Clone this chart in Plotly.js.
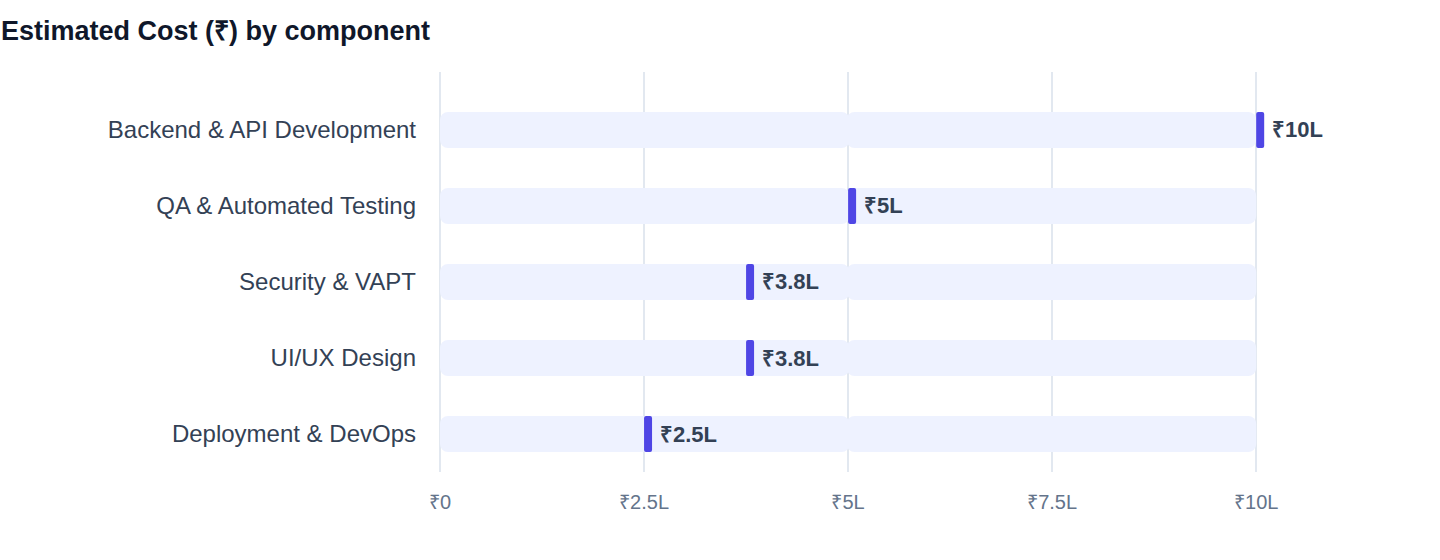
<!DOCTYPE html>
<html>
<head>
<meta charset="utf-8">
<script src="https://cdn.plot.ly/plotly-3.0.1.min.js"></script>
<style>
  html, body { margin: 0; padding: 0; background: #ffffff; }
  #chart { width: 1440px; height: 560px; }
</style>
</head>
<body>
<div id="chart"></div>
<script>
// ---- data ----
const categories = [
  "Backend & API Development",
  "QA & Automated Testing",
  "Security & VAPT",
  "UI/UX Design",
  "Deployment & DevOps"
];
const costLakh = [10, 5, 3.75, 3.75, 2.5];
const valueLabels = ["₹10L", "₹5L", "₹3.8L", "₹3.8L", "₹2.5L"];
const trackMax = 10;
const tickValues = [0, 2.5, 5, 7.5, 10];
const tickLabels = ["₹0", "₹2.5L", "₹5L", "₹7.5L", "₹10L"];

// ---- layout constants ----
const FONT = "'Liberation Sans', Arial, Helvetica, sans-serif";
const plotLeft = 440, xMax = 10.5;
const pxPerUnit = 81.6;
const plotRight = plotLeft + xMax * pxPerUnit;
const markerWidthUnits = 8 / pxPerUnit;
const overlapUnits = 1.5 / pxPerUnit;
const BAR_W = 0.474;

// rounded pill made of two overlapping halves: each half is rounded at its outer end
function pill(bases, lengths, color, radius, hover) {
  const mids = bases.map((b, i) => b + lengths[i] / 2);
  const halves = lengths.map(l => l / 2 + overlapUnits);
  const common = {
    type: "bar", orientation: "h", y: categories, width: BAR_W,
    marker: { color: color, cornerradius: radius, line: { width: 0 } },
    showlegend: false
  };
  const left = Object.assign({}, common, { base: mids.map(m => m + overlapUnits), x: halves.map(h => -h) });
  const right = Object.assign({}, common, { base: mids.map(m => m - overlapUnits), x: halves });
  if (hover) {
    left.hovertext = hover; right.hovertext = hover;
    left.hoverinfo = "text"; right.hoverinfo = "text";
  } else {
    left.hoverinfo = "skip"; right.hoverinfo = "skip";
  }
  return [left, right];
}

const trackTraces = pill(categories.map(() => 0), categories.map(() => trackMax), "#EEF2FF", 8, null);
const markerTraces = pill(costLakh, costLakh.map(() => markerWidthUnits), "#4F46E5", 4, valueLabels);

const annotations = categories.map((c, i) => ({
  x: costLakh[i] + markerWidthUnits,
  y: c,
  xref: "x",
  yref: "y",
  text: "<b>" + valueLabels[i] + "</b>",
  showarrow: false,
  xanchor: "left",
  yanchor: "middle",
  xshift: 6,
  font: { family: FONT, size: 22, color: "#334155" }
}));

const layout = {
  width: 1440,
  height: 560,
  paper_bgcolor: "#ffffff",
  plot_bgcolor: "#ffffff",
  margin: { l: plotLeft, r: 1440 - plotRight, t: 72, b: 88 },
  barmode: "overlay",
  title: {
    text: "<b>Estimated Cost (₹) by component</b>",
    xref: "container",
    x: 1 / 1440,
    xanchor: "left",
    yref: "container",
    y: 1 - 31 / 560,
    yanchor: "middle",
    font: { family: FONT, size: 27, color: "#0F172A" }
  },
  xaxis: {
    range: [0, xMax],
    tickvals: tickValues,
    ticktext: tickLabels,
    showgrid: true,
    gridcolor: "#E2E8F0",
    gridwidth: 1.5,
    zeroline: true,
    zerolinecolor: "#E2E8F0",
    zerolinewidth: 1.5,
    showline: false,
    ticks: "",
    ticklabelstandoff: 16,
    tickfont: { family: FONT, size: 20, color: "#64748B" },
    fixedrange: true
  },
  yaxis: {
    type: "category",
    categoryorder: "array",
    categoryarray: categories,
    range: [4.5, -0.763],
    showgrid: false,
    zeroline: false,
    showline: false,
    ticks: "",
    ticklabelstandoff: 23,
    tickfont: { family: FONT, size: 24, color: "#334155" },
    fixedrange: true
  },
  annotations: annotations,
  font: { family: FONT }
};

Plotly.newPlot("chart", trackTraces.concat(markerTraces), layout, { displayModeBar: false, staticPlot: true });
</script>
</body>
</html>
